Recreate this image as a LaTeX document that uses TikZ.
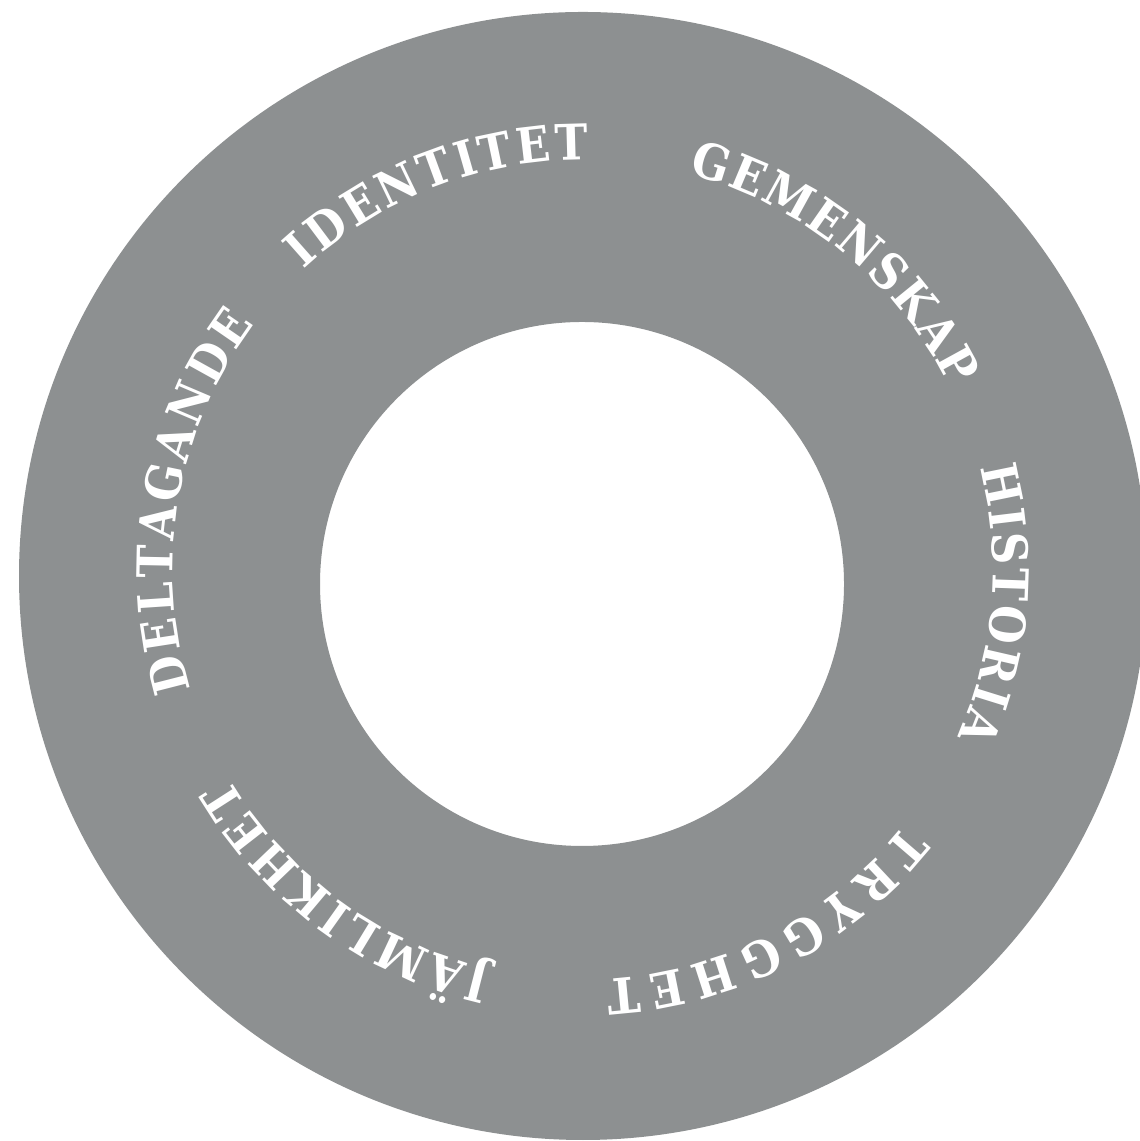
\documentclass[tikz,border=0pt]{standalone}
\usepackage{fontspec}
\newfontfamily\ordfont{DejaVu Serif Condensed Bold}
\usetikzlibrary{decorations.text}
\definecolor{ring}{HTML}{8D9091}
\tikzset{
  ringyta/.style={fill=ring, even odd rule},
  ordbana/.style={decorate, decoration={text along path, text align=fit to path,
    text={|\color{white}|#1}}},
}

\begin{document}
\ordfont\fontsize{14}{14}\selectfont
\begin{tikzpicture}[x=1cm,y=1cm]
  \useasboundingbox (0,0) rectangle (11.39,11.41);
  % ringen
  \fill[ringyta] (5.83,5.65) circle (5.64) (5.82,5.57) circle (2.62);
  \coordinate (mitt) at (5.83,5.71);
  % orden, medurs
  \path[ordbana=DELTAGANDE] ([shift={(197:4.10)}]mitt) arc[start angle=197, end angle=143.1, radius=4.10];
  \path[ordbana=IDENTITET] ([shift={(132.9:4.10)}]mitt) arc[start angle=132.9, end angle=89.3, radius=4.10];
  \path[ordbana=GEMENSKAP] ([shift={(75.1:4.10)}]mitt) arc[start angle=75.1, end angle=26.4, radius=4.10];
  \path[ordbana=HISTORIA] ([shift={(14.5:4.10)}]mitt) arc[start angle=14.5, end angle=-23.9, radius=4.10];
  \path[ordbana=TRYGGHET] ([shift={(-38.4:4.10)}]mitt) arc[start angle=-38.4, end angle=-86.8, radius=4.10];
  \path[ordbana=JÄMLIKHET] ([shift={(257.1:4.10)}]mitt) arc[start angle=257.1, end angle=210.4, radius=4.10];
\end{tikzpicture}
\end{document}
